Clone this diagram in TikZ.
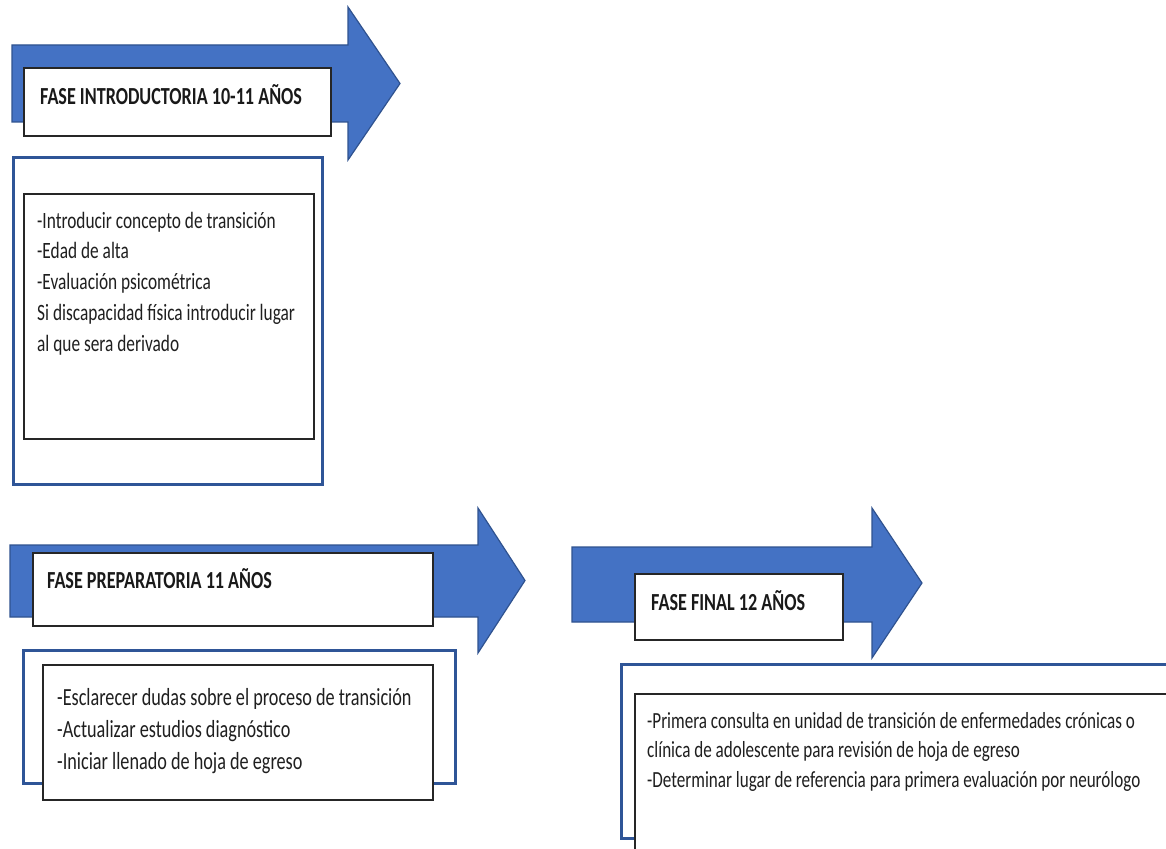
\documentclass[tikz,border=0pt]{standalone}
\usepackage{fontspec}
\setmainfont{Carlito}[FakeStretch=0.74]
\definecolor{arrowfill}{HTML}{4472C4}
\definecolor{arrowedge}{HTML}{2F528F}
\definecolor{frameblue}{HTML}{2F5597}
\definecolor{boxedge}{HTML}{262626}
\begin{document}
\begin{tikzpicture}[x=1pt,y=-1pt,
  phasearrow/.style={fill=arrowfill, draw=arrowedge, line width=1.2pt, line join=miter},
  titlebox/.style={draw=boxedge, fill=white, line width=1.6pt, inner sep=0pt, anchor=north west},
  framebox/.style={draw=frameblue, fill=white, line width=2.6pt, inner sep=0pt, anchor=north west},
  listbox/.style={draw=boxedge, fill=white, line width=1.6pt, inner sep=0pt, anchor=north west},
  titletext/.style={anchor=base west, inner sep=0pt, font=\fontsize{24.5}{29}\selectfont\bfseries, text=black!90},
  listtext/.style={anchor=north west, inner sep=0pt, align=left, text=black!88}
]
\useasboundingbox[fill=white] (0,0) rectangle (1166,848);

% --- introductory phase
\draw[phasearrow] (12,45) -- (348,45) -- (348,7) -- (400,83.5) -- (348,160) -- (348,122) -- (12,122) -- cycle;
\node[titlebox, minimum width=307pt, minimum height=68pt] (title1) at (23,67) {};
\node[titletext] (title1txt) at (40,105) {FASE INTRODUCTORIA 10-11 AÑOS};
\node[framebox, minimum width=309pt, minimum height=327pt] (frame1) at (12,156) {};
\node[listbox, minimum width=290pt, minimum height=245pt] (list1) at (23,193) {};
\node[listtext, font=\fontsize{23.4}{30.8}\selectfont] (list1txt) at (37,206.4)
  {\strut-Introducir concepto de transición\\
   -Edad de alta\\
   -Evaluación psicométrica\\
   Si discapacidad física introducir lugar\\
   al que sera derivado};

% --- preparatory phase
\draw[phasearrow] (10,545) -- (478,545) -- (478,508) -- (525,580.5) -- (478,653) -- (478,617) -- (10,617) -- cycle;
\node[titlebox, minimum width=400pt, minimum height=73pt] (title2) at (32,552) {};
\node[titletext] (title2txt) at (47,588) {FASE PREPARATORIA 11 AÑOS};
\node[framebox, minimum width=432pt, minimum height=133pt] (frame2) at (22,649) {};
\node[listbox, minimum width=390pt, minimum height=135pt] (list2) at (42,664) {};
\node[listtext, font=\fontsize{24.6}{32}\selectfont] (list2txt) at (57,682.6)
  {\strut-Esclarecer dudas sobre el proceso de transición\\
   -Actualizar estudios diagnóstico\\
   -Iniciar llenado de hoja de egreso};

% --- final phase
\draw[phasearrow] (572,547) -- (872,547) -- (872,508) -- (922,583) -- (872,658) -- (872,622) -- (572,622) -- cycle;
\node[titlebox, minimum width=208pt, minimum height=66pt] (title3) at (634,573) {};
\node[titletext] (title3txt) at (651,610) {FASE FINAL 12 AÑOS};
\node[framebox, minimum width=560pt, minimum height=174pt] (frame3) at (620,663) {};
\node[listbox, minimum width=560pt, minimum height=170pt] (list3) at (634,693) {};
\node[listtext, font=\fontsize{23.1}{29.5}\selectfont] (list3txt) at (647,707.35)
  {\strut-Primera consulta en unidad de transición de enfermedades crónicas o\\
   clínica de adolescente para revisión de hoja de egreso\\
   -Determinar lugar de referencia para primera evaluación por neurólogo};
\end{tikzpicture}
\end{document}
